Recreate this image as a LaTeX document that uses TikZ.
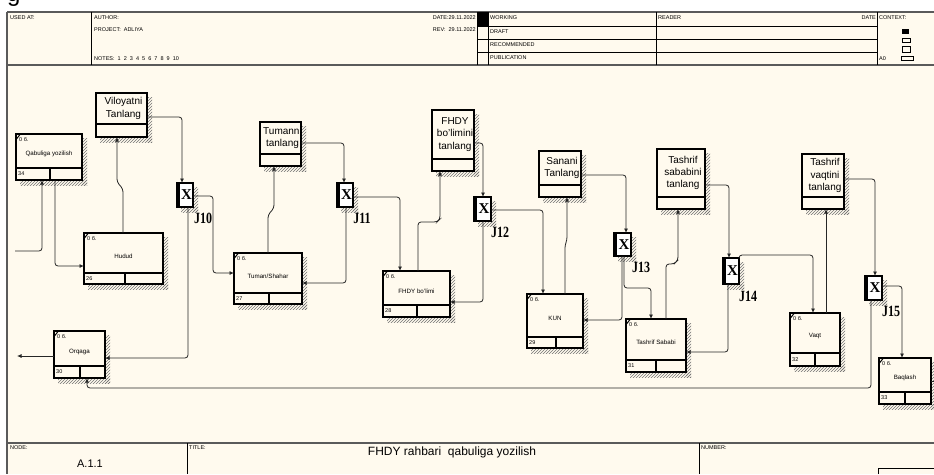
\documentclass[tikz,border=0pt]{standalone}
\usepackage{fontspec}
\setmainfont{Liberation Sans}
\newfontfamily\jserif{Liberation Serif}
\usetikzlibrary{arrows.meta,patterns}
\definecolor{bg}{RGB}{255,250,238}
\definecolor{frameln}{RGB}{90,90,90}
\tikzset{
  uobbox/.style={draw=black,line width=1.5pt,fill=bg,rectangle,inner sep=0pt,outer sep=0pt},
  jbox/.style={draw=black,line width=1.5pt,fill=white,rectangle,inner sep=0pt,outer sep=0pt},
  shadowpat/.style={pattern=north east lines,pattern color=black!55},
  link/.style={draw=black!85,line width=0.8pt,rounded corners=3pt,-{Latex[length=4.5pt,width=4pt]}},
  hdr/.style={font=\fontsize{5.5}{6}\selectfont,anchor=west,inner sep=0pt},
  small/.style={font=\fontsize{5.5}{6}\selectfont,inner sep=0pt},
  uname/.style={font=\fontsize{6.2}{7}\selectfont,inner sep=0pt},
  tname/.style={font=\fontsize{10}{12.3}\selectfont,align=center,inner sep=0pt},
  jlabel/.style={font=\jserif\bfseries\fontsize{12}{12}\selectfont,inner sep=0pt},
}
\newcommand\uob[9]{%
  \fill[shadowpat] (#2+4,#5) rectangle (#4+5,#5+5);
  \fill[shadowpat] (#4,#3+4) rectangle (#4+5,#5+5);
  \node[uobbox,minimum width={(#4-#2)*1pt},minimum height={(#5-#3)*1pt}] (#1) at ({(#2+#4)/2},{(#3+#5)/2}) {};
  \draw[line width=1.3pt] (#2,#6) -- (#4,#6);
  \draw[line width=1.3pt] (#7,#6) -- (#7,#5);
  \draw[line width=1pt] (#2+0.5,#3+5) -- (#2+4,#3+0.5);
  \node[small,anchor=west] at (#2+3,#3+6) {0 б.};
  \node[uname] at ({(#2+#4)/2},{(#3+#6)/2+3}) {#9};
  \node[small,anchor=west] at (#2+2,{(#6+#5)/2}) {#8};
}
\newcommand\tbox[7]{%
  \fill[shadowpat] (#2+4,#5) rectangle (#4+5,#5+5);
  \fill[shadowpat] (#4,#3+4) rectangle (#4+5,#5+5);
  \node[uobbox,minimum width={(#4-#2)*1pt},minimum height={(#5-#3)*1pt}] (#1) at ({(#2+#4)/2},{(#3+#5)/2}) {};
  \draw[line width=1.3pt] (#2,#6) -- (#4,#6);
  \node[tname] at ({(#2+#4)/2+2},{(#3+#6)/2}) {#7};
}
\newcommand\jnc[8]{%
  \fill[shadowpat] (#2+4,#5) rectangle (#4+5,#5+5);
  \fill[shadowpat] (#4,#3+4) rectangle (#4+5,#5+5);
  \node[jbox,minimum width={(#4-#2)*1pt},minimum height={(#5-#3)*1pt}] (#1) at ({(#2+#4)/2},{(#3+#5)/2}) {};
  \fill[black] (#2,#3) rectangle (#2+3,#5);
  \node[font=\jserif\bfseries\fontsize{15}{15}\selectfont,inner sep=0pt] at ({(#2+#4)/2+1.5},{(#3+#5)/2}) {X};
  \node[jlabel] at (#7,#8) {\scalebox{1}[1.3]{#6}};
}
\begin{document}
\begin{tikzpicture}[x=1pt,y=-1pt]
\useasboundingbox (0,0) rectangle (934,474);
\fill[white] (0,0) rectangle (934,474);
\fill[bg] (7,12) rectangle (934,474);
% clipped title glyph (only its lower part is visible)
\begin{scope}
\clip (0,0) rectangle (40,8);
\node[font=\fontsize{24}{24}\selectfont,anchor=base west,inner sep=0pt] at (7,1) {g};
\end{scope}
% frame
\draw[frameln,line width=1.8pt] (7,12) -- (934,12);
\draw[frameln,line width=1.8pt] (7,12) -- (7,474);
\draw[frameln,line width=1.5pt] (7,65) -- (934,65);
\draw[frameln,line width=1.2pt] (7,443) -- (934,443);
\draw[black,line width=0.8pt] (91,12) -- (91,65);
\draw[black,line width=0.8pt] (477,12) -- (477,65);
\draw[black,line width=0.8pt] (488,12) -- (488,65);
\draw[black,line width=0.8pt] (656,12) -- (656,65);
\draw[black,line width=0.8pt] (877,12) -- (877,65);
\draw[black,line width=0.8pt] (477,26.5) -- (877,26.5);
\draw[black,line width=0.8pt] (477,39) -- (877,39);
\draw[black,line width=0.8pt] (477,52) -- (877,52);
\fill[black] (477,12) rectangle (488,26.5);
\draw[black,line width=0.8pt] (187,443) -- (187,474);
\draw[black,line width=0.8pt] (699,443) -- (699,474);
\draw[black,line width=0.8pt] (878,474) -- (878,468) -- (934,468);
% header texts
\node[hdr] at (10,18) {USED AT:};
\node[hdr] at (94,18) {AUTHOR:};
\node[hdr] at (94,30) {PROJECT:\ \ ADLIYA};
\node[hdr] at (94,59) {NOTES:\ \ 1\ \ 2\ \ 3\ \ 4\ \ 5\ \ 6\ \ 7\ \ 8\ \ 9\ \ 10};
\node[hdr,anchor=east] at (476,18) {DATE:29.11.2022};
\node[hdr,anchor=east] at (476,30) {REV:\ \ 29.11.2022};
\node[hdr] at (490,18) {WORKING};
\node[hdr] at (490,32) {DRAFT};
\node[hdr] at (490,45) {RECOMMENDED};
\node[hdr] at (490,58) {PUBLICATION};
\node[hdr] at (658,18) {READER};
\node[hdr,anchor=east] at (876,18) {DATE};
\node[hdr] at (879,18) {CONTEXT:};
\node[hdr] at (879,59) {A0};
\fill[black] (902,29) rectangle (909,33.5);
\draw[black,line width=0.7pt] (902,38) rectangle (910,42);
\draw[black,line width=0.7pt] (902,46) rectangle (910,52);
\draw[black,line width=0.7pt] (901,56.5) rectangle (913,60.5);
% footer texts
\node[hdr] at (10,448) {NODE:};
\node[hdr] at (189,448) {TITLE:};
\node[hdr] at (701,448) {NUMBER:};
\node[font=\fontsize{11}{11}\selectfont,inner sep=0pt] at (90,464) {A.1.1};
\node[font=\fontsize{12}{12}\selectfont,inner sep=0pt] at (452,452) {FHDY rahbari\ \ qabuliga yozilish};
% top boxes
\tbox{vil}{96}{93}{147}{137}{124}{Viloyatni\\Tanlang}
\tbox{tmn}{260}{122}{301}{166}{154}{Tumanni\\tanlang}
\tbox{fbt}{432}{110}{474}{171}{159}{FHDY\\bo'limini\\tanlang}
\tbox{san}{539}{151}{581}{197}{185}{Sanani\\Tanlang}
\tbox{tst}{657}{149}{705}{209}{197}{Tashrif\\sababini\\tanlang}
\tbox{tvt}{802}{154}{844}{209}{197}{Tashrif\\vaqtini\\tanlang}
% UOBs
\uob{qab}{16}{134}{82}{180}{168}{50}{34}{Qabuliga yozilish}
\uob{hud}{84}{233}{163}{284}{273}{125}{26}{Hudud}
\uob{tum}{234}{253}{302}{304}{293}{269}{27}{Tuman/Shahar}
\uob{fbo}{383}{271}{450}{317}{305}{417}{28}{FHDY bo'limi}
\uob{kun}{527}{294}{583}{348}{337}{556}{29}{KUN}
\uob{tsb}{626}{319}{686}{372}{360}{656}{31}{Tashrif Sababi}
\uob{vaq}{790}{313}{840}{366}{353}{815}{32}{Vaqt}
\uob{baq}{879}{358}{931}{404}{392}{905}{33}{Baqlash}
\uob{orq}{54}{331}{105}{378}{366}{80}{30}{Orqaga}
% junctions
\jnc{j10}{177}{183}{193}{207}{J10}{203}{218}
\jnc{j11}{337}{183}{353}{207}{J11}{362}{218}
\jnc{j12}{474}{197}{491}{221}{J12}{500}{232}
\jnc{j13}{614}{233}{631}{256}{J13}{641}{267}
\jnc{j14}{723}{258}{739}{284}{J14}{748}{296}
\jnc{j15}{865}{276}{882}{300}{J15}{891}{311}
% connectors
\coordinate (in0) at (15,251);
\coordinate (out0) at (17,356);
\coordinate (out1) at (934,381);
\draw[link] (in0) -| (qab.south -| 42,0);
\draw[link] (qab.south -| 55,0) |- (hud.west |- 0,266);
\draw[link] (hud.north -| 123,0) -- (123,189) -- (117,182) -- (vil.south -| 117,0);
\draw[link] (vil.east |- 0,117) -| (j10.north -| 182,0);
\draw[link] (j10.east |- 0,196) -| (213,273) -- (tum.west |- 0,273);
\draw[link] (j10.south -| 188,0) |- (orq.east |- 0,358);
\draw[link] (orq.west |- 0,356) -- (out0);
\draw[link] (j15.south -| 871,0) |- (87,388) -- (orq.south -| 87,0);
\draw[link] (tum.north -| 268,0) -- (268,215) -- (274,208) -- (tmn.south -| 274,0);
\draw[link] (tmn.east |- 0,143) -| (j11.north -| 344,0);
\draw[link] (j11.east |- 0,197) -| (fbo.north -| 400,0);
\draw[link] (j11.south -| 346,0) |- (tum.east |- 0,283);
\draw[link] (fbo.north -| 418,0) |- (437,222) -- (440,219) -- (fbt.south -| 440,0);
\draw[link] (fbt.east |- 0,143) -| (j12.north -| 483,0);
\draw[link] (j12.south -| 483,0) |- (fbo.east |- 0,302);
\draw[link] (j12.east |- 0,210) -| (kun.north -| 543,0);
\draw[link] (kun.north -| 565,0) -- (565,245) -- (567,240) -- (san.south -| 567,0);
\draw[link] (san.east |- 0,175) -| (j13.north -| 626,0);
\draw[link] (j13.south -| 622,0) |- (kun.east |- 0,320);
\draw[link] (j13.south -| 624,0) -- (624,288) -- (651,288) -- (tsb.north -| 651,0);
\draw[link] (tsb.north -| 666,0) |- (674,264) -- (678,260) -- (tst.south -| 678,0);
\draw[link] (tst.east |- 0,185) -| (j14.north -| 729,0);
\draw[link] (j14.south -| 728,0) |- (tsb.east |- 0,352);
\draw[link] (j14.north east) -- (739,255) -| (vaq.north -| 813,0);
\draw[link] (vaq.north -| 826,0) -- (tvt.south -| 826,0);
\draw[link] (tvt.east |- 0,179) -| (j15.north -| 875,0);
\draw[link] (j15.east |- 0,286) -| (baq.north -| 902,0);
\draw[link,-] (baq.east |- 0,381) -- (out1);
\end{tikzpicture}
\end{document}
